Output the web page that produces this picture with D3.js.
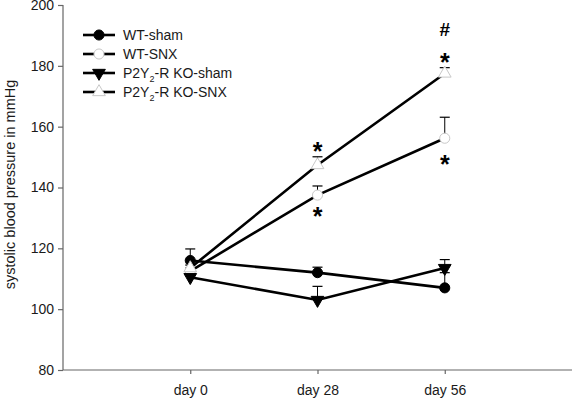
<!DOCTYPE html>
<html>
<head>
<meta charset="utf-8">
<script src="https://cdn.jsdelivr.net/npm/d3@7"></script>
<style>
  body { margin: 0; background: #fff; }
  svg { display: block; font-family: "Liberation Sans", Arial, sans-serif; }
</style>
</head>
<body>
<div id="chart"></div>
<script>
// Days on the x axis
const days = [0, 28, 56];
const dayLabels = ["day 0", "day 28", "day 56"];
const yTicks = [80, 100, 120, 140, 160, 180, 200];

// Series means and (upward) SEM
const wtSham = [116, 112, 107];
const wtShamErr = [3.8, 1.8, 5];
const wtSnx = [112.5, 137.5, 156.2];
const wtSnxErr = [1, 3, 6.9];
const koSham = [110.5, 103, 113.5];
const koShamErr = [1, 4.5, 2.8];
const koSnx = [113.5, 147.4, 177.5];
const koSnxErr = [1, 2.7, 1.9];

// Significance marks: [day, value, text]
const marks = [
    [28, 154.3, "*"],
    [28, 132.9, "*"],
    [56, 192.1, "#"],
    [56, 183.5, "*"],
    [56, 150.0, "*"]
];

const series = [
    { name: "WT-sham", values: wtSham, err: wtShamErr, shape: "circle", filled: true },
    { name: "WT-SNX", values: wtSnx, err: wtSnxErr, shape: "circle", filled: false },
    { name: "KO-sham", values: koSham, err: koShamErr, shape: "down", filled: true },
    { name: "KO-SNX", values: koSnx, err: koSnxErr, shape: "up", filled: false }
];

const width = 572;
const height = 399;

const svg = d3.select("#chart")
    .append("svg")
    .attr("width", width)
    .attr("height", height);

// Scales: axis runs one step either side of the days
const x = d3.scaleLinear().domain([-28, 84]).range([63, 572]);
const y = d3.scaleLinear().domain([80, 200]).range([370, 5]);

// Y axis
const yAxis = svg.append("g")
    .attr("transform", "translate(63,0)")
    .call(d3.axisLeft(y).tickValues(yTicks).tickSize(5).tickPadding(4));
yAxis.selectAll("text").style("font-size", "14px").attr("fill", "#1a1a1a");

// X axis
const xAxis = svg.append("g")
    .attr("transform", "translate(0,370)")
    .call(d3.axisBottom(x).tickValues(days).tickSize(4).tickPadding(11)
        .tickFormat((d, i) => dayLabels[i]));
xAxis.selectAll("text").style("font-size", "14px").attr("fill", "#1a1a1a");

svg.selectAll(".domain, .tick line").attr("stroke", "#666").attr("stroke-width", 1.2);
yAxis.select(".domain").attr("d", "M0,5V370");
xAxis.select(".domain").attr("d", "M63,0H572");

// Y axis title
svg.append("text")
    .attr("transform", "rotate(-90)")
    .attr("x", -y(141))
    .attr("y", 15)
    .attr("text-anchor", "middle")
    .style("font-size", "14.5px")
    .attr("fill", "#1a1a1a")
    .text("systolic blood pressure in mmHg");

const symbolFor = s => {
    if (s.shape === "circle") return d3.symbol().type(d3.symbolCircle).size(80)();
    return d3.symbol().type(d3.symbolTriangle).size(70)();
};

function drawMarker(g, s, cx, cy) {
    const rot = s.shape === "down" ? " rotate(180)" : "";
    g.append("path")
        .attr("d", symbolFor(s))
        .attr("fill", s.filled ? "#000" : "#fff")
        .attr("stroke", s.filled ? "#000" : "#c8c8c8")
        .attr("stroke-width", 1)
        .attr("transform", `translate(${cx},${cy})${rot}`);
}

const line = d3.line().x((d, i) => x(days[i])).y(d => y(d));

// Error bars (one-sided, upward)
series.forEach(s => {
    s.values.forEach((v, i) => {
        const cx = x(days[i]);
        svg.append("line")
            .attr("x1", cx).attr("x2", cx)
            .attr("y1", y(v)).attr("y2", y(v + s.err[i]))
            .attr("stroke", "#000").attr("stroke-width", 1);
        svg.append("line")
            .attr("x1", cx - 5).attr("x2", cx + 5)
            .attr("y1", y(v + s.err[i])).attr("y2", y(v + s.err[i]))
            .attr("stroke", "#000").attr("stroke-width", 1.2);
    });
});

// Lines
series.forEach(s => {
    svg.append("path")
        .datum(s.values)
        .attr("d", line)
        .attr("fill", "none")
        .attr("stroke", "#000")
        .attr("stroke-width", 2.6);
});

// Markers
series.forEach(s => {
    s.values.forEach((v, i) => drawMarker(svg, s, x(days[i]), y(v)));
});

// Significance marks
svg.selectAll(".mark")
    .data(marks)
    .enter()
    .append("text")
    .attr("x", d => x(d[0]))
    .attr("y", d => y(d[1]))
    .attr("dy", d => d[2] === "*" ? "0.62em" : "0.36em")
    .attr("text-anchor", "middle")
    .style("font-size", d => d[2] === "*" ? "25px" : "19px")
    .style("font-weight", "bold")
    .text(d => d[2]);

// Legend
const legend = svg.append("g");
series.forEach((s, i) => {
    const ly = 35 + i * 19;
    legend.append("line")
        .attr("x1", 83).attr("x2", 115)
        .attr("y1", ly).attr("y2", ly)
        .attr("stroke", "#000").attr("stroke-width", 2.6);
    drawMarker(legend, s, 99, ly);
    const t = legend.append("text")
        .attr("x", 123)
        .attr("y", ly + 5)
        .style("font-size", "14px")
        .attr("fill", "#1a1a1a");
    if (s.name.startsWith("KO")) {
        t.append("tspan").text("P2Y");
        t.append("tspan").text("2").style("font-size", "9px").attr("dy", 4);
        t.append("tspan").text("-R " + s.name).attr("dy", -4);
    } else {
        t.text(s.name);
    }
});
</script>
</body>
</html>
